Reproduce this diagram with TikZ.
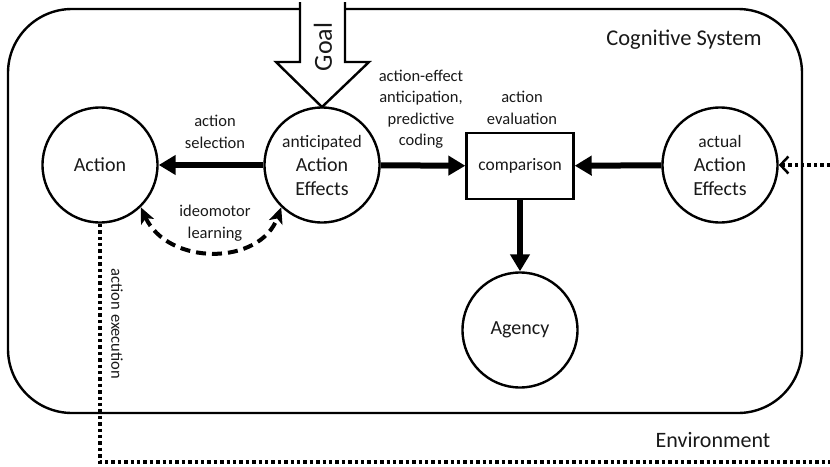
\documentclass[tikz,border=0pt]{standalone}
\usepackage{fontspec}
\setmainfont{Carlito}
\usetikzlibrary{arrows.meta}
\begin{document}
\begin{tikzpicture}[x=1pt,y=-1pt,
  every node/.style={text=black!90},
  circ/.style={circle,draw=black,line width=2.4pt,minimum size=115pt,inner sep=0pt,align=center},
  box/.style={rectangle,draw=black,line width=2.4pt,minimum width=107pt,minimum height=66pt,inner sep=0pt},
  lbl/.style={align=center,font=\fontsize{16.5}{21.5}\selectfont},
  big/.style={font=\fontsize{20}{24}\selectfont},
  thickarrow/.style={line width=6pt,-{Triangle[length=17pt,width=19pt]}},
  dashedarrow/.style={line width=4pt,dash pattern=on 10pt off 6pt,{Stealth[length=16pt,width=14pt,inset=4pt]}-{Stealth[length=16pt,width=14pt,inset=4pt]}},
  dottedline/.style={line width=3.6pt,dash pattern=on 3.4pt off 3pt},
]
\useasboundingbox (0,0) rectangle (830,466);
% cognitive system frame
\draw[line width=2.4pt,rounded corners=64pt] (8,9) rectangle (802,413);
% goal arrow
\draw[line width=2.4pt,fill=white,line join=miter] (300,2) -- (300,62) -- (276,62) -- (322,107) -- (369,62) -- (345,62) -- (345,2);
\node[rotate=90,font=\fontsize{26}{30}\selectfont] (goal) at (323,47) {Goal};
% nodes
\node[circ,big] (act) at (100,165) {Action};
\node[circ,big] (ant) at (322,165) {{\fontsize{17.5}{24}\selectfont anticipated}\\Action\\Effects};
\node[box,font=\fontsize{17.5}{21}\selectfont] (cmp) at (520,166) {comparison};
\node[circ,big] (real) at (720,165) {{\fontsize{17.5}{24}\selectfont actual}\\Action\\Effects};
\node[circ,big] (agency) at (520,330) {Agency};
% labels
\node[font=\fontsize{22.5}{26}\selectfont] (cs) at (684,40) {Cognitive System};
\node[font=\fontsize{22}{26}\selectfont] (env) at (713,440) {Environment};
\node[lbl] (sel) at (215,132) {action\\selection};
\node[lbl] (ideo) at (215,223) {ideomotor\\learning};
\node[lbl] (antic) at (421,109) {action-effect\\anticipation,\\predictive\\coding};
\node[lbl] (eval) at (522,108) {action\\evaluation};
\node[lbl,rotate=-90] (exe) at (117,324) {action execution};
% connectors
\draw[thickarrow] (ant) -- (act);
\draw[thickarrow] (ant) -- (cmp);
\draw[thickarrow] (real) -- (cmp);
\draw[thickarrow] (cmp) -- (agency);
\draw[dashedarrow] (act.-46) .. controls (168,266) and (260,266) .. (ant.-134);
\coordinate (c1) at (100,462);
\coordinate (c2) at (830,462);
\coordinate (r1) at (830,165);
\draw[dottedline] (act.south) -- (c1) -- (c2);
\draw[dottedline,-{Straight Barb[length=8pt,width=17pt,line width=2.5pt]}] (r1) -- (real.east);
\end{tikzpicture}
\end{document}
